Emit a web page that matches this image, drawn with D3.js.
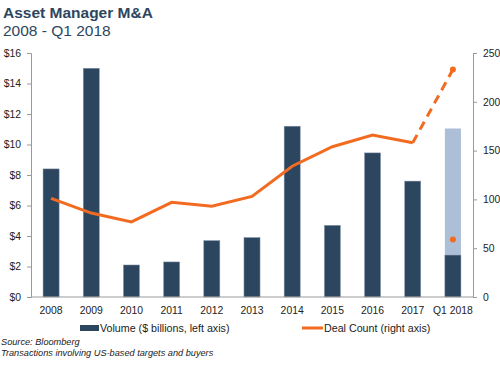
<!DOCTYPE html>
<html><head><meta charset="utf-8">
<script src="https://cdn.jsdelivr.net/npm/d3@7"></script>
<style>body{margin:0;background:#fff;font-family:"Liberation Sans",Arial,sans-serif;}</style>
</head><body><svg id="c" width="500" height="366"></svg>
<script>
const categories = ["2008","2009","2010","2011","2012","2013","2014","2015","2016","2017","Q1 2018"];
const volume = [8.4, 15.0, 2.1, 2.3, 3.7, 3.9, 11.2, 4.7, 9.45, 7.6, 2.75];
const volumeProjected = [null,null,null,null,null,null,null,null,null,null,11.05];
const dealCount = [101, 86, 77, 97, 93, 103, 134, 154, 166, 158];
const dealProjected = 233;
const dealQ1 = 59;
const leftTicks = [0,2,4,6,8,10,12,14,16];
const rightTicks = [0,50,100,150,200,250];

const svg = d3.select("#c");
const L = 31, R = 473, T = 53, B = 297;
const x = d3.scaleBand().domain(categories).range([L, R]).paddingInner(0.6).paddingOuter(0.3);
const yL = d3.scaleLinear().domain([0,16]).range([B,T]);
const yR = d3.scaleLinear().domain([0,250]).range([B,T]);
const dark = "#2d4660", light = "#adbfd6", orange = "#f26b21", grey = "#9a9a9a";
const FS = 10.4;

svg.append("text").attr("x",3).attr("y",18).attr("font-size",15.5).attr("font-weight","bold").attr("fill","#2d4660").text("Asset Manager M&A");
svg.append("text").attr("x",3).attr("y",36).attr("font-size",15.5).attr("fill","#2d4660").text("2008 - Q1 2018");

// bars
svg.selectAll(".pb").data(categories.map((c,i)=>({c,v:volumeProjected[i]})).filter(d=>d.v!=null))
  .enter().append("rect").attr("x",d=>x(d.c)).attr("width",x.bandwidth())
  .attr("y",d=>yL(d.v)).attr("height",d=>B-yL(d.v)).attr("fill",light);
svg.selectAll(".b").data(categories.map((c,i)=>({c,v:volume[i]})))
  .enter().append("rect").attr("x",d=>x(d.c)).attr("width",x.bandwidth())
  .attr("y",d=>yL(d.v)).attr("height",d=>B-yL(d.v)).attr("fill",dark)
  .attr("stroke","#8a9aae").attr("stroke-width",0.5);

// axes
const ga = svg.append("g").attr("transform",`translate(${L},0)`).call(d3.axisLeft(yL).tickValues(leftTicks).tickSize(4).tickPadding(6).tickFormat(d=>"$"+d));
const gr = svg.append("g").attr("transform",`translate(${R},0)`).call(d3.axisRight(yR).tickValues(rightTicks).tickSize(4).tickPadding(6));
const gb = svg.append("g").attr("transform",`translate(0,${B})`).call(d3.axisBottom(x).tickSize(0).tickPadding(10));
[ga,gr,gb].forEach(g=>{
  g.selectAll("path,line").attr("stroke",grey);
  g.selectAll("text").attr("font-size",FS).attr("fill","#222").attr("font-family","Liberation Sans, Arial, sans-serif");
});
gb.select("path").attr("d",`M${L},0H${R}`);

// line
const cx = c => x(c)+x.bandwidth()/2;
const line = d3.line().x(d=>cx(d.c)).y(d=>yR(d.v));
const pts = dealCount.map((v,i)=>({c:categories[i],v}));
svg.append("path").datum(pts).attr("d",line).attr("fill","none").attr("stroke",orange).attr("stroke-width",3);
svg.append("path").datum([pts[pts.length-1],{c:categories[10],v:dealProjected}]).attr("d",line)
  .attr("fill","none").attr("stroke",orange).attr("stroke-width",3).attr("stroke-dasharray","9,6");
svg.append("circle").attr("cx",cx(categories[10])).attr("cy",yR(dealProjected)).attr("r",3).attr("fill",orange);
svg.append("circle").attr("cx",cx(categories[10])).attr("cy",yR(dealQ1)).attr("r",3).attr("fill",orange);

// legend
svg.append("rect").attr("x",80).attr("y",325).attr("width",19).attr("height",6).attr("fill",dark);
svg.append("text").attr("x",100).attr("y",332).attr("font-size",FS+0.3).attr("fill","#222").text("Volume ($ billions, left axis)");
svg.append("rect").attr("x",302).attr("y",326.5).attr("width",21).attr("height",3).attr("fill",orange);
svg.append("text").attr("x",324).attr("y",332).attr("font-size",FS+0.3).attr("fill","#222").text("Deal Count (right axis)");

svg.append("text").attr("x",1).attr("y",345).attr("font-size",9.2).attr("font-style","italic").attr("fill","#222").text("Source: Bloomberg");
svg.append("text").attr("x",1).attr("y",356).attr("font-size",9.2).attr("font-style","italic").attr("fill","#222").text("Transactions involving US-based targets and buyers");
</script></body></html>
